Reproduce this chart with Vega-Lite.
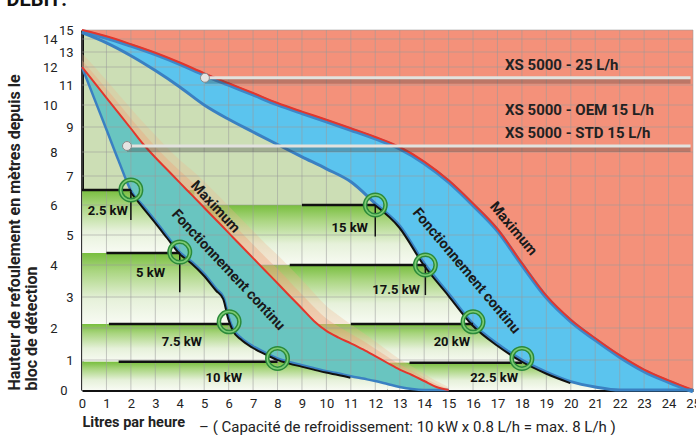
{
  "$schema": "https://vega.github.io/schema/vega-lite/v6.json",
  "width": 611,
  "height": 360,
  "autosize": {"type": "none"},
  "padding": {"left": 82, "top": 30, "right": 3, "bottom": 45},
  "title": {"text": "DEBIT:", "anchor": "start", "frame": "bounds", "fontSize": 20, "fontWeight": "bold", "color": "#111", "offset": 14},
  "config": {
    "font": "Roboto, Liberation Sans, sans-serif",
    "view": {"stroke": null, "fill": "#CCDEB5"},
    "axis": {"labelOverlap": false, "labelFlush": false}
  },
  "datasets": {
    "big": [
      {"x": 0, "maxi": 15.0, "cont": 14.7},
      {"x": 1, "maxi": 14.3, "cont": 13.7},
      {"x": 2, "maxi": 13.6, "cont": 12.75},
      {"x": 3, "maxi": 12.95, "cont": 11.8},
      {"x": 4, "maxi": 12.3, "cont": 10.9},
      {"x": 5, "maxi": 11.65, "cont": 10.0},
      {"x": 6, "maxi": 11.1, "cont": 9.35},
      {"x": 7, "maxi": 10.6, "cont": 8.8},
      {"x": 8, "maxi": 10.1, "cont": 8.3},
      {"x": 9, "maxi": 9.7, "cont": 7.8},
      {"x": 10, "maxi": 9.33, "cont": 7.3},
      {"x": 11, "maxi": 8.95, "cont": 6.8},
      {"x": 12, "maxi": 8.6, "cont": 6.05},
      {"x": 13, "maxi": 8.2, "cont": 5.3},
      {"x": 14, "maxi": 7.6, "cont": 4.05},
      {"x": 15, "maxi": 6.85, "cont": 3.1},
      {"x": 16, "maxi": 6.05, "cont": 2.13},
      {"x": 17, "maxi": 5.2, "cont": 1.5},
      {"x": 18, "maxi": 4.06, "cont": 1.0},
      {"x": 19, "maxi": 3.04, "cont": 0.6},
      {"x": 20, "maxi": 2.27, "cont": 0.28},
      {"x": 21, "maxi": 1.68, "cont": 0.1},
      {"x": 22, "maxi": 1.15, "cont": 0.0},
      {"x": 23, "maxi": 0.68, "cont": 0.0},
      {"x": 24, "maxi": 0.32, "cont": 0.0},
      {"x": 25, "maxi": 0.0, "cont": 0.0}
    ],
    "small": [
      {"x": 0, "maxi": 12, "cont": 12, "g1": 12.45, "g2": 12.9},
      {"x": 0.5, "maxi": 11.14, "cont": 10.33, "g1": 11.59, "g2": 12.04},
      {"x": 1, "maxi": 10.36, "cont": 8.9, "g1": 10.81, "g2": 11.26},
      {"x": 1.5, "maxi": 9.63, "cont": 7.63, "g1": 10.08, "g2": 10.53},
      {"x": 2, "maxi": 8.94, "cont": 6.5, "g1": 9.39, "g2": 9.84},
      {"x": 2.5, "maxi": 8.32, "cont": 5.97, "g1": 8.77, "g2": 9.22},
      {"x": 3, "maxi": 7.77, "cont": 5.47, "g1": 8.22, "g2": 8.67},
      {"x": 3.5, "maxi": 7.25, "cont": 4.95, "g1": 7.7, "g2": 8.15},
      {"x": 4, "maxi": 6.77, "cont": 4.43, "g1": 7.22, "g2": 7.67},
      {"x": 4.5, "maxi": 6.34, "cont": 4.1, "g1": 6.79, "g2": 7.24},
      {"x": 5, "maxi": 5.91, "cont": 3.72, "g1": 6.36, "g2": 6.81},
      {"x": 5.5, "maxi": 5.49, "cont": 3.25, "g1": 5.94, "g2": 6.39},
      {"x": 5.8, "maxi": 5.24, "cont": 2.98, "g1": 5.69, "g2": 6.14},
      {"x": 6, "maxi": 5.07, "cont": 2.35, "g1": 5.52, "g2": 5.97},
      {"x": 6.2, "maxi": 4.9, "cont": 1.95, "g1": 5.35, "g2": 5.8},
      {"x": 6.5, "maxi": 4.65, "cont": 1.7, "g1": 5.1, "g2": 5.55},
      {"x": 7, "maxi": 4.23, "cont": 1.43, "g1": 4.68, "g2": 5.13},
      {"x": 7.5, "maxi": 3.82, "cont": 1.23, "g1": 4.27, "g2": 4.72},
      {"x": 8, "maxi": 3.43, "cont": 1.05, "g1": 3.88, "g2": 4.33},
      {"x": 8.5, "maxi": 3.03, "cont": 0.93, "g1": 3.48, "g2": 3.93},
      {"x": 9, "maxi": 2.63, "cont": 0.83, "g1": 3.08, "g2": 3.53},
      {"x": 9.5, "maxi": 2.22, "cont": 0.73, "g1": 2.67, "g2": 3.12},
      {"x": 10, "maxi": 1.91, "cont": 0.63, "g1": 2.31, "g2": 2.71},
      {"x": 10.5, "maxi": 1.7, "cont": 0.55, "g1": 2.05, "g2": 2.4},
      {"x": 11, "maxi": 1.52, "cont": 0.46, "g1": 1.82, "g2": 2.12},
      {"x": 11.5, "maxi": 1.33, "cont": 0.38, "g1": 1.6, "g2": 1.85},
      {"x": 12, "maxi": 1.12, "cont": 0.3, "g1": 1.35, "g2": 1.58},
      {"x": 12.5, "maxi": 0.9, "cont": 0.2, "g1": 1.1, "g2": 1.3},
      {"x": 13, "maxi": 0.68, "cont": 0.1, "g1": 0.85, "g2": 1.02},
      {"x": 13.5, "maxi": 0.5, "cont": 0.03, "g1": 0.64, "g2": 0.78},
      {"x": 14, "maxi": 0.3, "cont": 0.0, "g1": 0.42, "g2": 0.54},
      {"x": 14.5, "maxi": 0.1, "cont": 0.0, "g1": 0.2, "g2": 0.3},
      {"x": 15, "maxi": 0.0, "cont": 0.0, "g1": 0.05, "g2": 0.1}
    ],
    "stripes": [
      {"x1": 0, "x2": 4.6, "top": 6.52, "bot": 4.4},
      {"x1": 0, "x2": 7.0, "top": 4.4, "bot": 2.13},
      {"x1": 0, "x2": 9.6, "top": 2.13, "bot": 0.94},
      {"x1": 0, "x2": 12.5, "top": 0.94, "bot": 0},
      {"x1": 4.6, "x2": 25, "top": 6.0, "bot": 4.0},
      {"x1": 7.0, "x2": 25, "top": 4.0, "bot": 2.13},
      {"x1": 9.6, "x2": 25, "top": 2.13, "bot": 0.91},
      {"x1": 12.5, "x2": 25, "top": 0.91, "bot": 0}
    ],
    "levels": [
      {"x1": 0, "x2": 2, "h": 6.52},
      {"x1": 1, "x2": 4, "h": 4.4},
      {"x1": 1.1, "x2": 6.02, "h": 2.13},
      {"x1": 1.5, "x2": 8, "h": 0.94},
      {"x1": 9, "x2": 12, "h": 6.0},
      {"x1": 8.5, "x2": 14.05, "h": 4.0},
      {"x1": 11, "x2": 16, "h": 2.13},
      {"x1": 13.4, "x2": 18, "h": 0.91}
    ],
    "drops": [
      {"x": 2, "top": 6.52, "bot": 5.5},
      {"x": 4, "top": 4.4, "bot": 3.15},
      {"x": 12, "top": 6.0, "bot": 4.95},
      {"x": 14.05, "top": 4.0, "bot": 3.06}
    ],
    "ops": [
      {"x": 2, "h": 6.52},
      {"x": 4, "h": 4.43},
      {"x": 6.02, "h": 2.2},
      {"x": 8, "h": 1.05},
      {"x": 12, "h": 6.0},
      {"x": 14.05, "h": 4.0},
      {"x": 16, "h": 2.2},
      {"x": 18, "h": 1.05}
    ],
    "kw": [
      {"x": 1.88, "h": 5.8, "label": "2.5 kW"},
      {"x": 3.4, "h": 3.75, "label": "5 kW"},
      {"x": 4.91, "h": 1.56, "label": "7.5 kW"},
      {"x": 6.55, "h": 0.4, "label": "10 kW"},
      {"x": 11.7, "h": 5.23, "label": "15 kW"},
      {"x": 13.83, "h": 3.22, "label": "17.5 kW"},
      {"x": 15.88, "h": 1.56, "label": "20 kW"},
      {"x": 17.84, "h": 0.4, "label": "22.5 kW"}
    ],
    "notesSmall": [
      {"x": 5.44, "h": 5.93, "t": "Maximum"},
      {"x": 5.97, "h": 3.84, "t": "Fonctionnement continu"}
    ],
    "notesBig": [
      {"x": 17.64, "h": 5.2, "t": "Maximum"},
      {"x": 15.71, "h": 3.81, "t": "Fonctionnement continu"}
    ],
    "callouts": [
      {"x1": 5.03, "x2": 24.9, "h": 11.4},
      {"x1": 1.84, "x2": 24.9, "h": 8.24}
    ],
    "calltext": [
      {"x": 17.31, "h": 12.13, "t": "XS 5000 - 25 L/h"},
      {"x": 17.31, "h": 9.77, "t": "XS 5000 - OEM 15 L/h"},
      {"x": 17.31, "h": 8.76, "t": "XS 5000 - STD 15 L/h"}
    ],
    "subtitle": [
      {"x": 4.79, "h": -1.23, "t": "–  ( Capacité de refroidissement: 10 kW x 0.8 L/h = max. 8 L/h )"}
    ],
    "gx": [{"g":0},{"g":1},{"g":2},{"g":3},{"g":4},{"g":5},{"g":6},{"g":7},{"g":8},{"g":9},{"g":10},{"g":11},{"g":12},{"g":13},{"g":14},{"g":15},{"g":16},{"g":17},{"g":18},{"g":19},{"g":20},{"g":21},{"g":22},{"g":23},{"g":24},{"g":25}],
    "gy": [{"g":1},{"g":2},{"g":3},{"g":4},{"g":5},{"g":6},{"g":7},{"g":8},{"g":9},{"g":10},{"g":11},{"g":12},{"g":13},{"g":14},{"g":15}]
  },
  "resolve": {"axis": {"x": "independent", "y": "independent"}},
  "layer": [
    {
      "data": {"name": "stripes"},
      "mark": {"type": "rect", "color": {"gradient": "linear", "x1": 0, "y1": 0, "x2": 0, "y2": 1, "stops": [{"offset": 0, "color": "#78BE3E"}, {"offset": 0.25, "color": "#A9D57F"}, {"offset": 0.65, "color": "#E6F1DA"}, {"offset": 1, "color": "#F8FBF3"}]}},
      "encoding": {
        "x": {"field": "x1", "type": "quantitative", "scale": {"domain": [0, 25], "nice": false, "zero": false},
          "axis": {"values": [0,1,2,3,4,5,6,7,8,9,10,11,12,13,14,15,16,17,18,19,20,21,22,23,24,25], "tickCount": 40, "format": "d", "title": "Litres par heure", "titleAnchor": "start", "titleFontSize": 14.5, "titleFontWeight": "bold", "titleColor": "#222", "titlePadding": 5, "labelFontSize": 13, "labelColor": "#222", "labelPadding": 7, "labelFlush": false, "labelOverlap": false, "ticks": false, "tickSize": 0, "domainColor": "#111", "domainWidth": 3, "grid": false}},
        "x2": {"field": "x2"},
        "y": {"field": "top", "type": "quantitative",
          "scale": {"domain": [0,1,2,3,4,5,6,7,8,9,10,11,12,13,14,15], "range": [360,330,298,267,235,205,175,146,122,97,75,55,37,22,9,0], "nice": false, "zero": false},
          "axis": {"values": [0,1,2,3,4,5,6,7,8,9,10,11,12,13,14,15], "tickCount": 30, "format": "d", "title": ["Hauteur de refoulement  en mètres depuis le", "bloc de détection"], "titleAnchor": "start", "titleFontSize": 16, "titleFontWeight": "bold", "titleColor": "#222", "titleLineHeight": 17, "titlePadding": 3, "labelFontSize": 13, "labelColor": "#222", "labelPadding": {"expr": "datum.value == 0 ? 15 : (datum.value % 2 == 0 ? 25 : 9)"}, "labelFlush": false, "labelOverlap": false, "ticks": false, "tickSize": 0, "domainColor": "#111", "domainWidth": 3, "grid": false}},
        "y2": {"field": "bot"}
      }
    },
    {
      "data": {"name": "small"},
      "mark": {"type": "area", "interpolate": "monotone", "color": "#EFB58E", "opacity": 0.3},
      "encoding": {
        "x": {"field": "x", "type": "quantitative", "axis": null, "scale": {"domain": [0, 25], "nice": false, "zero": false}},
        "y": {"field": "maxi", "type": "quantitative", "axis": null, "scale": {"domain": [0,1,2,3,4,5,6,7,8,9,10,11,12,13,14,15], "range": [360,330,298,267,235,205,175,146,122,97,75,55,37,22,9,0], "nice": false, "zero": false}},
        "y2": {"field": "g2"}
      }
    },
    {
      "data": {"name": "small"},
      "mark": {"type": "area", "interpolate": "monotone", "color": "#EDA47C", "opacity": 0.4},
      "encoding": {
        "x": {"field": "x", "type": "quantitative", "axis": null, "scale": {"domain": [0, 25], "nice": false, "zero": false}},
        "y": {"field": "maxi", "type": "quantitative", "axis": null, "scale": {"domain": [0,1,2,3,4,5,6,7,8,9,10,11,12,13,14,15], "range": [360,330,298,267,235,205,175,146,122,97,75,55,37,22,9,0], "nice": false, "zero": false}},
        "y2": {"field": "g1"}
      }
    },
    {
      "data": {"name": "small"},
      "mark": {"type": "area", "interpolate": "monotone", "color": "#69C5C0", "opacity": 1},
      "encoding": {
        "x": {"field": "x", "type": "quantitative", "axis": null, "scale": {"domain": [0, 25], "nice": false, "zero": false}},
        "y": {"field": "maxi", "type": "quantitative", "axis": null, "scale": {"domain": [0,1,2,3,4,5,6,7,8,9,10,11,12,13,14,15], "range": [360,330,298,267,235,205,175,146,122,97,75,55,37,22,9,0], "nice": false, "zero": false}},
        "y2": {"field": "cont"}
      }
    },
    {
      "data": {"name": "big"},
      "mark": {"type": "area", "interpolate": "monotone", "color": "#5BC4EE", "opacity": 1},
      "encoding": {
        "x": {"field": "x", "type": "quantitative", "axis": null, "scale": {"domain": [0, 25], "nice": false, "zero": false}},
        "y": {"field": "maxi", "type": "quantitative", "axis": null, "scale": {"domain": [0,1,2,3,4,5,6,7,8,9,10,11,12,13,14,15], "range": [360,330,298,267,235,205,175,146,122,97,75,55,37,22,9,0], "nice": false, "zero": false}},
        "y2": {"field": "cont"}
      }
    },
    {
      "data": {"name": "big"},
      "mark": {"type": "area", "interpolate": "monotone", "color": "#F4917A", "opacity": 1},
      "encoding": {
        "x": {"field": "x", "type": "quantitative", "axis": null, "scale": {"domain": [0, 25], "nice": false, "zero": false}},
        "y": {"field": "maxi", "type": "quantitative", "axis": null, "scale": {"domain": [0,1,2,3,4,5,6,7,8,9,10,11,12,13,14,15], "range": [360,330,298,267,235,205,175,146,122,97,75,55,37,22,9,0], "nice": false, "zero": false}},
        "y2": {"datum": 15}
      }
    },
    {
      "data": {"name": "gx"},
      "mark": {"type": "rule", "color": "#9A9A9A", "opacity": 0.55, "strokeWidth": 1},
      "encoding": {
        "x": {"field": "g", "type": "quantitative", "axis": null, "scale": {"domain": [0, 25], "nice": false, "zero": false}}
      }
    },
    {
      "data": {"name": "gy"},
      "mark": {"type": "rule", "color": "#9A9A9A", "opacity": 0.55, "strokeWidth": 1},
      "encoding": {
        "y": {"field": "g", "type": "quantitative", "axis": null, "scale": {"domain": [0,1,2,3,4,5,6,7,8,9,10,11,12,13,14,15], "range": [360,330,298,267,235,205,175,146,122,97,75,55,37,22,9,0], "nice": false, "zero": false}}
      }
    },
    {
      "data": {"name": "big"},
      "mark": {"type": "line", "interpolate": "monotone", "color": "#3E86C8", "strokeWidth": 4, "yOffset": 1.5},
      "encoding": {
        "x": {"field": "x", "type": "quantitative", "axis": null, "scale": {"domain": [0, 25], "nice": false, "zero": false}},
        "y": {"field": "maxi", "type": "quantitative", "axis": null, "scale": {"domain": [0,1,2,3,4,5,6,7,8,9,10,11,12,13,14,15], "range": [360,330,298,267,235,205,175,146,122,97,75,55,37,22,9,0], "nice": false, "zero": false}}
      }
    },
    {
      "data": {"name": "big"},
      "mark": {"type": "line", "interpolate": "monotone", "color": "#E3362C", "strokeWidth": 2},
      "encoding": {
        "x": {"field": "x", "type": "quantitative", "axis": null, "scale": {"domain": [0, 25], "nice": false, "zero": false}},
        "y": {"field": "maxi", "type": "quantitative", "axis": null, "scale": {"domain": [0,1,2,3,4,5,6,7,8,9,10,11,12,13,14,15], "range": [360,330,298,267,235,205,175,146,122,97,75,55,37,22,9,0], "nice": false, "zero": false}}
      }
    },
    {
      "data": {"name": "big"},
      "mark": {"type": "line", "interpolate": "monotone", "color": "#3A80C2", "strokeWidth": 3},
      "encoding": {
        "x": {"field": "x", "type": "quantitative", "axis": null, "scale": {"domain": [0, 25], "nice": false, "zero": false}},
        "y": {"field": "cont", "type": "quantitative", "axis": null, "scale": {"domain": [0,1,2,3,4,5,6,7,8,9,10,11,12,13,14,15], "range": [360,330,298,267,235,205,175,146,122,97,75,55,37,22,9,0], "nice": false, "zero": false}}
      }
    },
    {
      "data": {"name": "small"},
      "mark": {"type": "line", "interpolate": "monotone", "color": "#3A80C2", "strokeWidth": 2.5},
      "encoding": {
        "x": {"field": "x", "type": "quantitative", "axis": null, "scale": {"domain": [0, 25], "nice": false, "zero": false}},
        "y": {"field": "cont", "type": "quantitative", "axis": null, "scale": {"domain": [0,1,2,3,4,5,6,7,8,9,10,11,12,13,14,15], "range": [360,330,298,267,235,205,175,146,122,97,75,55,37,22,9,0], "nice": false, "zero": false}}
      }
    },
    {
      "data": {"name": "small"},
      "mark": {"type": "line", "interpolate": "monotone", "color": "#E3362C", "strokeWidth": 2},
      "encoding": {
        "x": {"field": "x", "type": "quantitative", "axis": null, "scale": {"domain": [0, 25], "nice": false, "zero": false}},
        "y": {"field": "maxi", "type": "quantitative", "axis": null, "scale": {"domain": [0,1,2,3,4,5,6,7,8,9,10,11,12,13,14,15], "range": [360,330,298,267,235,205,175,146,122,97,75,55,37,22,9,0], "nice": false, "zero": false}}
      }
    },
    {
      "data": {"name": "small"},
      "transform": [{"filter": "datum.x >= 2 && datum.x <= 11"}],
      "mark": {"type": "line", "interpolate": "monotone", "color": "#111111", "strokeWidth": 2, "yOffset": 1.5, "xOffset": -0.5},
      "encoding": {
        "x": {"field": "x", "type": "quantitative", "axis": null, "scale": {"domain": [0, 25], "nice": false, "zero": false}},
        "y": {"field": "cont", "type": "quantitative", "axis": null, "scale": {"domain": [0,1,2,3,4,5,6,7,8,9,10,11,12,13,14,15], "range": [360,330,298,267,235,205,175,146,122,97,75,55,37,22,9,0], "nice": false, "zero": false}}
      }
    },
    {
      "data": {"name": "big"},
      "transform": [{"filter": "datum.x >= 12 && datum.x <= 20"}],
      "mark": {"type": "line", "interpolate": "monotone", "color": "#111111", "strokeWidth": 2, "yOffset": 1.5, "xOffset": -0.5},
      "encoding": {
        "x": {"field": "x", "type": "quantitative", "axis": null, "scale": {"domain": [0, 25], "nice": false, "zero": false}},
        "y": {"field": "cont", "type": "quantitative", "axis": null, "scale": {"domain": [0,1,2,3,4,5,6,7,8,9,10,11,12,13,14,15], "range": [360,330,298,267,235,205,175,146,122,97,75,55,37,22,9,0], "nice": false, "zero": false}}
      }
    },
    {
      "data": {"name": "levels"},
      "mark": {"type": "rule", "color": "#111111", "strokeWidth": 2.5},
      "encoding": {
        "x": {"field": "x1", "type": "quantitative", "axis": null, "scale": {"domain": [0, 25], "nice": false, "zero": false}},
        "x2": {"field": "x2"},
        "y": {"field": "h", "type": "quantitative", "axis": null, "scale": {"domain": [0,1,2,3,4,5,6,7,8,9,10,11,12,13,14,15], "range": [360,330,298,267,235,205,175,146,122,97,75,55,37,22,9,0], "nice": false, "zero": false}}
      }
    },
    {
      "data": {"name": "drops"},
      "mark": {"type": "rule", "color": "#111111", "strokeWidth": 1.5},
      "encoding": {
        "x": {"field": "x", "type": "quantitative", "axis": null, "scale": {"domain": [0, 25], "nice": false, "zero": false}},
        "y": {"field": "top", "type": "quantitative", "axis": null, "scale": {"domain": [0,1,2,3,4,5,6,7,8,9,10,11,12,13,14,15], "range": [360,330,298,267,235,205,175,146,122,97,75,55,37,22,9,0], "nice": false, "zero": false}},
        "y2": {"field": "bot"}
      }
    },
    {
      "data": {"name": "ops"},
      "mark": {"type": "point", "shape": "circle", "filled": false, "size": 420, "stroke": "#2B8A3A", "strokeWidth": 4.5, "opacity": 1},
      "encoding": {
        "x": {"field": "x", "type": "quantitative", "axis": null, "scale": {"domain": [0, 25], "nice": false, "zero": false}},
        "y": {"field": "h", "type": "quantitative", "axis": null, "scale": {"domain": [0,1,2,3,4,5,6,7,8,9,10,11,12,13,14,15], "range": [360,330,298,267,235,205,175,146,122,97,75,55,37,22,9,0], "nice": false, "zero": false}}
      }
    },
    {
      "data": {"name": "ops"},
      "mark": {"type": "point", "shape": "circle", "filled": false, "size": 420, "stroke": "#7CCB72", "strokeWidth": 1.5, "opacity": 1},
      "encoding": {
        "x": {"field": "x", "type": "quantitative", "axis": null, "scale": {"domain": [0, 25], "nice": false, "zero": false}},
        "y": {"field": "h", "type": "quantitative", "axis": null, "scale": {"domain": [0,1,2,3,4,5,6,7,8,9,10,11,12,13,14,15], "range": [360,330,298,267,235,205,175,146,122,97,75,55,37,22,9,0], "nice": false, "zero": false}}
      }
    },
    {
      "data": {"name": "kw"},
      "mark": {"type": "text", "align": "right", "baseline": "middle", "fontSize": 13, "fontWeight": "bold", "color": "#111"},
      "encoding": {
        "x": {"field": "x", "type": "quantitative", "axis": null, "scale": {"domain": [0, 25], "nice": false, "zero": false}},
        "y": {"field": "h", "type": "quantitative", "axis": null, "scale": {"domain": [0,1,2,3,4,5,6,7,8,9,10,11,12,13,14,15], "range": [360,330,298,267,235,205,175,146,122,97,75,55,37,22,9,0], "nice": false, "zero": false}},
        "text": {"field": "label"}
      }
    },
    {
      "data": {"name": "notesSmall"},
      "mark": {"type": "text", "align": "center", "baseline": "middle", "fontSize": 14.5, "fontWeight": "bold", "color": "#1A1A1A", "angle": 47},
      "encoding": {
        "x": {"field": "x", "type": "quantitative", "axis": null, "scale": {"domain": [0, 25], "nice": false, "zero": false}},
        "y": {"field": "h", "type": "quantitative", "axis": null, "scale": {"domain": [0,1,2,3,4,5,6,7,8,9,10,11,12,13,14,15], "range": [360,330,298,267,235,205,175,146,122,97,75,55,37,22,9,0], "nice": false, "zero": false}},
        "text": {"field": "t"}
      }
    },
    {
      "data": {"name": "notesBig"},
      "mark": {"type": "text", "align": "center", "baseline": "middle", "fontSize": 14.5, "fontWeight": "bold", "color": "#1A1A1A", "angle": 50},
      "encoding": {
        "x": {"field": "x", "type": "quantitative", "axis": null, "scale": {"domain": [0, 25], "nice": false, "zero": false}},
        "y": {"field": "h", "type": "quantitative", "axis": null, "scale": {"domain": [0,1,2,3,4,5,6,7,8,9,10,11,12,13,14,15], "range": [360,330,298,267,235,205,175,146,122,97,75,55,37,22,9,0], "nice": false, "zero": false}},
        "text": {"field": "t"}
      }
    },
    {
      "data": {"name": "callouts"},
      "mark": {"type": "rule", "color": "#3A3A3A", "opacity": 0.3, "strokeWidth": 5, "yOffset": 3.5},
      "encoding": {
        "x": {"field": "x1", "type": "quantitative", "axis": null, "scale": {"domain": [0, 25], "nice": false, "zero": false}},
        "x2": {"field": "x2"},
        "y": {"field": "h", "type": "quantitative", "axis": null, "scale": {"domain": [0,1,2,3,4,5,6,7,8,9,10,11,12,13,14,15], "range": [360,330,298,267,235,205,175,146,122,97,75,55,37,22,9,0], "nice": false, "zero": false}}
      }
    },
    {
      "data": {"name": "callouts"},
      "mark": {"type": "rule", "color": "#E2E2DE", "strokeWidth": 3},
      "encoding": {
        "x": {"field": "x1", "type": "quantitative", "axis": null, "scale": {"domain": [0, 25], "nice": false, "zero": false}},
        "x2": {"field": "x2"},
        "y": {"field": "h", "type": "quantitative", "axis": null, "scale": {"domain": [0,1,2,3,4,5,6,7,8,9,10,11,12,13,14,15], "range": [360,330,298,267,235,205,175,146,122,97,75,55,37,22,9,0], "nice": false, "zero": false}}
      }
    },
    {
      "data": {"name": "callouts"},
      "mark": {"type": "point", "shape": "circle", "filled": true, "size": 80, "color": "#E4E4E2", "stroke": "#8A8A8A", "strokeWidth": 1, "opacity": 1},
      "encoding": {
        "x": {"field": "x1", "type": "quantitative", "axis": null, "scale": {"domain": [0, 25], "nice": false, "zero": false}},
        "y": {"field": "h", "type": "quantitative", "axis": null, "scale": {"domain": [0,1,2,3,4,5,6,7,8,9,10,11,12,13,14,15], "range": [360,330,298,267,235,205,175,146,122,97,75,55,37,22,9,0], "nice": false, "zero": false}}
      }
    },
    {
      "data": {"name": "calltext"},
      "mark": {"type": "text", "align": "left", "baseline": "middle", "fontSize": 15, "fontWeight": "bold", "color": "#222"},
      "encoding": {
        "x": {"field": "x", "type": "quantitative", "axis": null, "scale": {"domain": [0, 25], "nice": false, "zero": false}},
        "y": {"field": "h", "type": "quantitative", "axis": null, "scale": {"domain": [0,1,2,3,4,5,6,7,8,9,10,11,12,13,14,15], "range": [360,330,298,267,235,205,175,146,122,97,75,55,37,22,9,0], "nice": false, "zero": false}},
        "text": {"field": "t"}
      }
    },
    {
      "data": {"name": "subtitle"},
      "mark": {"type": "text", "align": "left", "baseline": "middle", "fontSize": 15, "fontWeight": "normal", "color": "#222"},
      "encoding": {
        "x": {"field": "x", "type": "quantitative", "axis": null, "scale": {"domain": [0, 25], "nice": false, "zero": false}},
        "y": {"field": "h", "type": "quantitative", "axis": null, "scale": {"domain": [0,1,2,3,4,5,6,7,8,9,10,11,12,13,14,15], "range": [360,330,298,267,235,205,175,146,122,97,75,55,37,22,9,0], "nice": false, "zero": false}},
        "text": {"field": "t"}
      }
    }
  ]
}
